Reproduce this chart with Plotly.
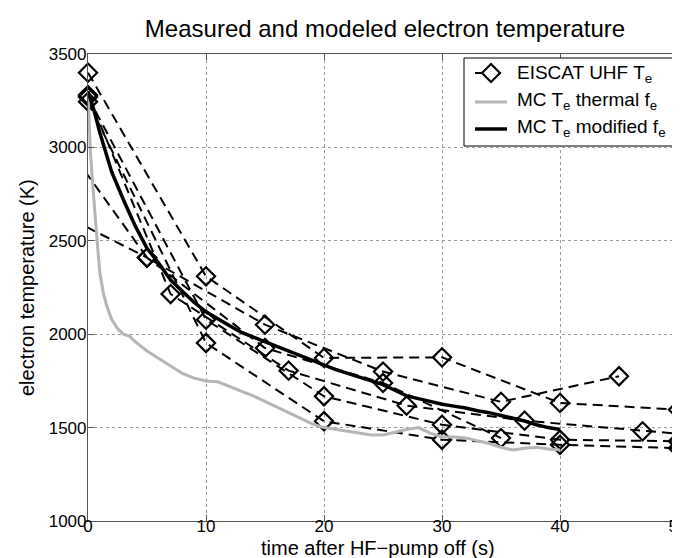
import plotly.graph_objects as go

# ---------------- data ----------------
title_text = "Measured and modeled electron temperature"
x_title = "time after HF\u2212pump off (s)"
y_title = "electron temperature (K)"
x_tick_vals = [0, 10, 20, 30, 40, 50]
y_tick_vals = [1000, 1500, 2000, 2500, 3000, 3500]

legend_eiscat = "EISCAT UHF T<sub>e</sub>"
legend_thermal = "MC T<sub>e</sub> thermal f<sub>e</sub>"
legend_modified = "MC T<sub>e</sub> modified f<sub>e</sub>"

# EISCAT UHF measurements (several heating cycles)
eiscat_t1 = [0, 10, 20, 30, 40, 50]
eiscat_T1 = [3400, 2310, 1873, 1876, 1632, 1596]
eiscat_t2 = [0, 10, 20, 30, 40, 50]
eiscat_T2 = [3270, 2078, 1668, 1515, 1435, 1427]
eiscat_t3 = [0, 10, 20, 30, 40, 50]
eiscat_T3 = [3245, 1953, 1534, 1435, 1408, 1390]
eiscat_t4 = [0, 7, 17, 27, 37, 47, 57]
eiscat_T4 = [3280, 2215, 1805, 1618, 1537, 1480, 1430]
eiscat_t5 = [-5, 5, 15, 25, 35, 45]
eiscat_T5 = [3290, 2410, 2051, 1800, 1638, 1775]
eiscat_t6 = [-5, 5, 15, 25, 35]
eiscat_T6 = [2730, 2410, 1926, 1739, 1444]

# Monte Carlo, thermal f_e
mc_thermal_t = [0, 0.1, 0.2, 0.4, 0.6, 0.8, 1.0, 1.3, 1.6, 2.0, 2.5, 3, 3.5, 4, 5, 6, 7, 8,
                9, 10, 11, 12, 13, 14, 15, 16, 17, 18, 19, 20, 21, 22, 23, 24, 25, 26, 27,
                28, 29, 30, 31, 32, 33, 34, 35, 36, 37, 38, 39, 40]
mc_thermal_T = [3300, 3150, 2980, 2800, 2620, 2480, 2330, 2220, 2150, 2080, 2030, 2000, 1990,
                1960, 1910, 1870, 1830, 1790, 1765, 1750, 1745, 1720, 1695, 1670, 1640, 1610,
                1580, 1550, 1520, 1500, 1490, 1480, 1470, 1460, 1460, 1475, 1490, 1500, 1470,
                1450, 1450, 1445, 1430, 1415, 1395, 1380, 1390, 1395, 1385, 1380]

# Monte Carlo, modified f_e
mc_mod_t = [0, 0.5, 1, 1.5, 2, 3, 4, 5, 6, 7, 8, 9, 10, 11, 12, 13, 14, 15, 16, 17, 18, 19,
            20, 21, 22, 23, 24, 25, 26, 27, 28, 29, 30, 31, 32, 33, 34, 35, 36, 37, 38, 39, 40]
mc_mod_T = [3300, 3200, 3080, 2970, 2870, 2720, 2580, 2460, 2380, 2290, 2230, 2170, 2120,
            2080, 2045, 2010, 1985, 1960, 1935, 1910, 1880, 1855, 1830, 1810, 1790, 1770,
            1750, 1730, 1700, 1670, 1655, 1640, 1625, 1615, 1605, 1590, 1580, 1565, 1550,
            1535, 1515, 1500, 1490]

eiscat_series = [
    (eiscat_t1, eiscat_T1), (eiscat_t2, eiscat_T2), (eiscat_t3, eiscat_T3),
    (eiscat_t4, eiscat_T4), (eiscat_t5, eiscat_T5), (eiscat_t6, eiscat_T6),
]

X_RANGE = [0, 50]
Y_RANGE = [1000, 3500]

# ---------------- layout geometry (pixels) ----------------
W, H = 680, 558
ML, MR, MT, MB = 80, 10, 46, 45
PW, PH = W - ML - MR, H - MT - MB


def px_x(px):
    return (px - ML) / PW


def px_y(py):
    return (H - MB - py) / PH


FONT = "Liberation Sans, Arial, Helvetica, sans-serif"
DASH = "10px,6px"
fig = go.Figure()

for t, T in eiscat_series:
    fig.add_trace(go.Scatter(
        x=t, y=T, mode="lines", line=dict(color="black", width=2, dash=DASH),
        showlegend=False, hoverinfo="skip"))
    mt = [a for a, b in zip(t, T) if X_RANGE[0] <= a <= X_RANGE[1]]
    mT = [b for a, b in zip(t, T) if X_RANGE[0] <= a <= X_RANGE[1]]
    fig.add_trace(go.Scatter(
        x=mt, y=mT, mode="markers", cliponaxis=False,
        marker=dict(symbol="diamond-open", size=14, color="black", line=dict(width=2.2)),
        showlegend=False))

fig.add_trace(go.Scatter(
    x=mc_thermal_t, y=mc_thermal_T, mode="lines", name=legend_thermal,
    line=dict(color="#b5b5b5", width=3), showlegend=False))

fig.add_trace(go.Scatter(
    x=mc_mod_t, y=mc_mod_T, mode="lines", name=legend_modified,
    line=dict(color="black", width=3.5), showlegend=False))

axis_common = dict(
    showline=True, linecolor="#555", linewidth=1.2, mirror="ticks",
    ticks="inside", ticklen=6, tickcolor="#555", tickwidth=1,
    showgrid=True, gridcolor="#9a9a9a", gridwidth=1, griddash="dot",
    zeroline=False, tickfont=dict(size=17, color="black", family=FONT),
)

# ---------------- manual legend ----------------
shapes = []
annotations = []
shapes.append(dict(type="rect", xref="paper", yref="paper",
                   x0=px_x(456), x1=px_x(669.5), y0=px_y(138), y1=px_y(50),
                   line=dict(color="black", width=1), fillcolor="white", layer="above"))
shapes.append(dict(type="line", xref="paper", yref="paper",
                   x0=px_x(467), x1=px_x(498), y0=px_y(65), y1=px_y(65),
                   line=dict(color="black", width=2, dash=DASH), layer="above"))
cx, cy, r = 483, 65, 9
shapes.append(dict(type="path", xref="paper", yref="paper", layer="above",
                   path=(f"M {px_x(cx)},{px_y(cy - r)} L {px_x(cx + r)},{px_y(cy)} "
                         f"L {px_x(cx)},{px_y(cy + r)} L {px_x(cx - r)},{px_y(cy)} Z"),
                   line=dict(color="black", width=2.2), fillcolor="white"))
shapes.append(dict(type="line", xref="paper", yref="paper",
                   x0=px_x(467), x1=px_x(499), y0=px_y(94), y1=px_y(94),
                   line=dict(color="#b5b5b5", width=3), layer="above"))
shapes.append(dict(type="line", xref="paper", yref="paper",
                   x0=px_x(467), x1=px_x(499), y0=px_y(121), y1=px_y(121),
                   line=dict(color="black", width=3.5), layer="above"))

for text, ty in [(legend_eiscat, 66), (legend_thermal, 93), (legend_modified, 120)]:
    annotations.append(dict(text=text, xref="paper", yref="paper",
                            x=px_x(507), y=px_y(ty), xanchor="left", yanchor="middle",
                            showarrow=False, font=dict(size=19, family=FONT, color="black")))

# axis titles
annotations.append(dict(text=x_title, xref="paper", yref="paper", x=px_x(370), y=px_y(540),
                        xanchor="center", yanchor="middle", showarrow=False,
                        font=dict(size=20, family=FONT, color="black")))
annotations.append(dict(text=y_title, xref="paper", yref="paper", x=px_x(19), y=px_y(280),
                        xanchor="center", yanchor="middle", textangle=-90, showarrow=False,
                        font=dict(size=20, family=FONT, color="black")))

fig.update_layout(
    width=W, height=H,
    paper_bgcolor="white", plot_bgcolor="white",
    margin=dict(l=ML, r=MR, t=MT, b=MB, autoexpand=False),
    font=dict(family=FONT, color="black"),
    title=dict(text=title_text, x=px_x(377), xref="paper", y=1 - 21 / H, yref="container",
               xanchor="center", yanchor="middle", font=dict(size=24, family=FONT)),
    xaxis=dict(range=X_RANGE, tickvals=x_tick_vals, ticklabelstandoff=-11, **axis_common),
    yaxis=dict(range=Y_RANGE, tickvals=y_tick_vals, ticklabelstandoff=-3, **axis_common),
    shapes=shapes,
    annotations=annotations,
    showlegend=False,
)

fig.write_html("out.html")
